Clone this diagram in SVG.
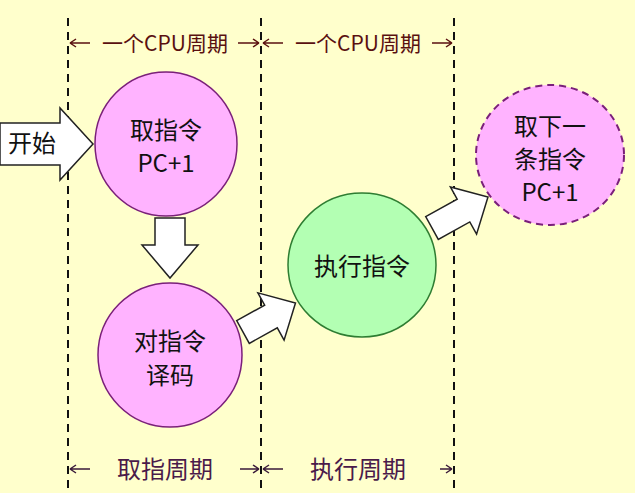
<svg xmlns="http://www.w3.org/2000/svg" width="635" height="493" viewBox="0 0 635 493">
<style>
.t{font-family:"Noto Sans CJK SC","Liberation Sans",sans-serif;font-size:24px;fill:#111;text-anchor:middle}
.l{font-family:"Noto Sans CJK SC","Liberation Sans",sans-serif;text-anchor:middle}
.d{stroke:#111;stroke-width:2;stroke-dasharray:8,6;fill:none}
.ar{fill:#fff;stroke:#222;stroke-width:1.5}
.pk{fill:#ffb3ff;stroke:#7a1f7a;stroke-width:1.5}
.p{stroke-width:1.5;fill:none}
</style>
<rect width="635" height="493" fill="#ffffcc"/>
<g id="guides">
<line class="d" x1="68" y1="18" x2="68" y2="488"/>
<line class="d" x1="261" y1="18" x2="261" y2="488"/>
<line class="d" x1="454" y1="18" x2="454" y2="488"/>
<g stroke="#5a1010" class="p">
<path d="M70 43H90M70 43l6-4M70 43l6 4"/>
<path d="M238 43H259M259 43l-6-4M259 43l-6 4"/>
<path d="M263 43H283M263 43l6-4M263 43l6 4"/>
<path d="M432 43H452M452 43l-6-4M452 43l-6 4"/>
</g>
<text class="l" x="165" y="51" font-size="21" fill="#5a1010">一个CPU周期</text>
<text class="l" x="358" y="51" font-size="21" fill="#5a1010">一个CPU周期</text>
<g stroke="#3a1a3a" class="p">
<path d="M70 469H90M70 469l6-4M70 469l6 4"/>
<path d="M240 469H259M259 469l-6-4M259 469l-6 4"/>
<path d="M263 469H283M263 469l6-4M263 469l6 4"/>
<path d="M440 469H452M452 469l-6-4M452 469l-6 4"/>
</g>
<text class="l" x="165" y="478" font-size="24" fill="#4a1a4a">取指周期</text>
<text class="l" x="358" y="478" font-size="24" fill="#4a1a4a">执行周期</text>
</g>
<g id="connectors">
<path class="ar" d="M0 123H60V108L93 144L60 180V165H0Z"/>
<path class="ar" d="M155 218H185V245H198L170 278L142 245H155Z"/>
<path class="ar" transform="translate(243 332) rotate(-29)" d="M0 -13H32V-27L60 0L32 27V13H0Z"/>
<path class="ar" transform="translate(432 228) rotate(-29)" d="M0 -13H36V-27L64 0L36 27V13H0Z"/>
</g>
<g id="start"><text class="t" x="32" y="152" font-size="19">开始</text></g>
<g id="fetch">
<ellipse class="pk" cx="166" cy="144" rx="71" ry="72"/>
<text class="t" x="166" y="139">取指令</text>
<text class="t" x="166" y="172">PC+1</text>
</g>
<g id="decode">
<ellipse class="pk" cx="170" cy="355" rx="72" ry="72"/>
<text class="t" x="170" y="350">对指令</text>
<text class="t" x="170" y="384">译码</text>
</g>
<g id="execute">
<ellipse cx="362" cy="265" rx="74" ry="72" fill="#b3ffb3" stroke="#2e7d32" stroke-width="1.5"/>
<text class="t" x="362" y="275">执行指令</text>
</g>
<g id="next">
<ellipse cx="550" cy="155" rx="74" ry="70" fill="#ffb3ff" stroke="#7a1f7a" stroke-width="2" stroke-dasharray="7,5"/>
<text class="t" x="550" y="135" font-size="22">取下一</text>
<text class="t" x="550" y="168" font-size="22">条指令</text>
<text class="t" x="550" y="201" font-size="22">PC+1</text>
</g>
</svg>
